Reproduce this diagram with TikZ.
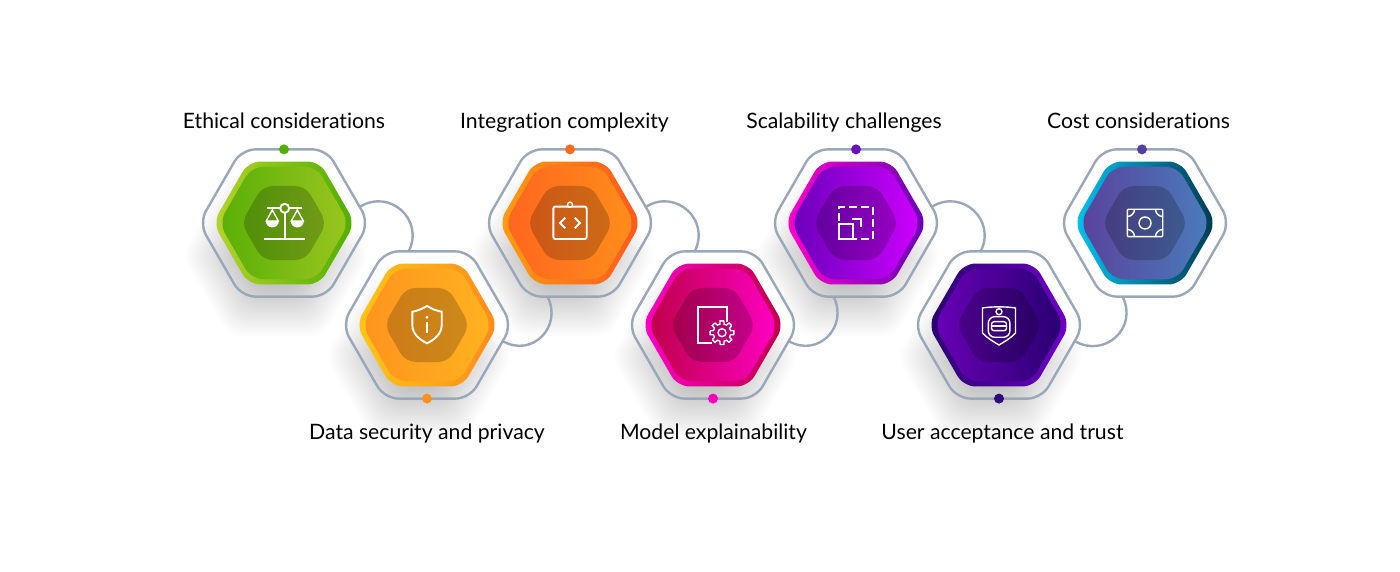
\documentclass[tikz,border=0pt]{standalone}
\usepackage{fontspec}
\setmainfont[Ligatures=NoCommon]{Lato}
\usetikzlibrary{positioning,shapes.geometric}
\definecolor{ringline}{HTML}{9AA7B8}

% stacked see-through hexagons make the soft shadow
\newcommand{\softshadow}[2]{%
  \foreach \s in {60,64,...,188} {
    \node[hexa, minimum size=\s pt, fill=black, fill opacity=0.0062] at (#1-8,#2-32) {};
  }
}
\newcommand{\hexface}[5]{%
  \definecolor{backl}{HTML}{#2}\definecolor{backr}{HTML}{#3}%
  \definecolor{frontl}{HTML}{#4}\definecolor{frontr}{HTML}{#5}%
  \node[hexa, minimum size=142pt, left color=backl, right color=backr] at (#1.center) {};
  \node[hexa, minimum size=130pt, left color=frontl, right color=frontr] at (#1.center) {};
  \node[hexa, minimum size=85.5pt, fill=black, fill opacity=0.2, rounded corners=10pt] at (#1.center) {};
}
\newcommand{\ringdot}[3]{%
  \definecolor{dotc}{HTML}{#3}%
  \node[dot, fill=dotc] (#1dot) at (#1.#2) {};
}

\begin{document}
\begin{tikzpicture}[
  x=1pt, y=1pt,
  hexa/.style={regular polygon, regular polygon sides=6,
    inner sep=0pt, outer sep=0pt, rounded corners=12pt},
  ring/.style={hexa, minimum size=170pt, draw=ringline, line width=2.4pt, rounded corners=14pt},
  link/.style={draw=ringline, line width=2.4pt},
  dot/.style={circle, inner sep=0pt, minimum size=10pt},
  caption/.style={font=\fontsize{21.2}{25}\selectfont, text=black, inner sep=0pt, anchor=base},
  icon/.style={draw=white, line width=1.9pt},
  thinicon/.style={draw=white, line width=1.4pt}
]
\useasboundingbox (0,0) rectangle (1400,572);

\softshadow{284}{349}
\softshadow{427}{247}
\softshadow{570}{349}
\softshadow{713}{247}
\softshadow{856}{349}
\softshadow{999}{247}

% outer rings
\node[ring] (ethical) at (284,349) {};
\node[ring] (security) at (427,247) {};
\node[ring] (integration) at (570,349) {};
\node[ring] (explain) at (713,247) {};
\node[ring] (scale) at (856,349) {};
\node[ring] (trust) at (999,247) {};
\node[ring] (cost) at (1145,349) {};

% connectors
\draw[link] (ethical.12) to[out=32,in=63,looseness=1.37] (security.104);
\draw[link] (security.348) to[out=-30,in=-63,looseness=1.37] (integration.253);
\draw[link] (integration.12) to[out=32,in=63,looseness=1.37] (explain.104);
\draw[link] (explain.348) to[out=-30,in=-63,looseness=1.37] (scale.253);
\draw[link] (scale.12) to[out=32,in=63,looseness=1.37] (trust.104);
\draw[link] (trust.348) to[out=-30,in=-63,looseness=1.37] (cost.253);

% coloured faces
\hexface{ethical}{B6D32C}{4FAE00}{58AF06}{9AC61F}
\hexface{security}{FFC615}{FF8B1C}{FF931E}{FFB31F}
\hexface{integration}{FF9C12}{FF581E}{FF651E}{FF8E1A}
\hexface{explain}{FF00C8}{BE0048}{BE0048}{FF00C4}
\hexface{scale}{FF00CC}{6800B4}{6A00BA}{CE00FF}
\hexface{trust}{2A0070}{7000C8}{6A00B8}{280070}
\hexface{cost}{00C4F2}{00384F}{5A429C}{4A7CBA}

% dots on the rings
\ringdot{ethical}{north}{4FB000}
\ringdot{security}{south}{FF9020}
\ringdot{integration}{north}{FF6A1E}
\ringdot{explain}{south}{FF00C0}
\ringdot{scale}{north}{6A12C0}
\ringdot{trust}{south}{2E0A80}
\definecolor{dotc}{HTML}{5540A0}
\node[dot, fill=dotc, xshift=-3pt] (costdot) at (cost.north) {};

% captions
\node[caption] (ethicaltxt) at (284,443) {Ethical considerations};
\node[caption] (securitytxt) at (427,132) {Data security and privacy};
\node[caption] (integrationtxt) at (564.5,443) {Integration complexity};
\node[caption] (explaintxt) at (713.5,132) {Model explainability};
\node[caption] (scaletxt) at (844,443) {Scalability challenges};
\node[caption] (trusttxt) at (1002.5,132) {User acceptance and trust};
\node[caption] (costtxt) at (1138.5,443) {Cost considerations};

% scales
\begin{scope}[shift={(ethical.center)}]
\draw[icon] (-17,14.7) -- (-3.8,14.7) (5.2,14.7) -- (18.4,14.7);
\draw[icon] (0.7,14.7) circle (4.5);
\draw[icon] (0.7,10.2) -- (0.7,-16);
\draw[icon] (-19.7,-16) -- (21,-16);
\foreach \c in {-11.7,13.3} {
  \draw[thinicon] (\c,13) -- (\c-6,2) -- (\c+6,2) -- cycle;
  \fill[white] (\c-6.5,2) arc[start angle=180, end angle=360, radius=6.5] -- cycle;
}
\end{scope}

% shield with info mark
\begin{scope}[shift={(security.center)}]
\draw[icon] (0,19) .. controls (5,16) and (10,14) .. (14.7,13.3) -- (14.7,0)
  .. controls (14.7,-9) and (7,-15) .. (0,-18.3)
  .. controls (-7,-15) and (-14.7,-9) .. (-14.7,0) -- (-14.7,13.3)
  .. controls (-10,14) and (-5,16) .. (0,19) -- cycle;
\fill[white] (0,7.7) circle (1.6);
\draw[icon] (0,3.3) -- (0,-8.3);
\end{scope}

% code board
\begin{scope}[shift={(integration.center)}]
\draw[icon, rounded corners=2pt] (-16.7,-16) rectangle (16.7,16.3);
\draw[thinicon, fill=black!20!orange] (0,18.3) circle (2.5);
\draw[icon] (-4.7,5.3) -- (-10,0) -- (-4.7,-5.3);
\draw[icon] (4.7,5.3) -- (10,0) -- (4.7,-5.3);
\end{scope}

% page with gear
\begin{scope}[shift={(explain.center)}]
\draw[icon] (13.7,3.3) -- (13.7,18.3) -- (-15.3,18.3) -- (-15.3,-18.3) -- (-1.3,-18.3);
\begin{scope}[shift={(9,-7.7)}]
\draw[thinicon] (0,0) circle (4);
\foreach \a in {0,45,...,315} {
  \draw[thinicon] (\a-9:12) -- (\a+9:12) -- (\a+14:8.8) arc[start angle=\a+14, end angle=\a+31, radius=8.8] -- (\a+36:12);
}
\end{scope}
\end{scope}

% dashed resize frame
\begin{scope}[shift={(scale.center)}]
\draw[icon, dash pattern=on 8pt off 4pt] (-16.8,2) -- (-16.8,16.3) -- (16.8,16.3) -- (16.8,-16.3) -- (-2,-16.3);
\draw[icon] (-16.8,-1.3) rectangle (-2.7,-16.3);
\draw[icon] (-3.7,3.7) -- (4.7,3.7) -- (4.7,-4.3);
\end{scope}

% shield with badge
\begin{scope}[shift={(trust.center)}]
\draw[thinicon] (-16.5,17) .. controls (-8,18.5) and (8,18.5) .. (16.5,17) -- (16.5,-8)
  .. controls (12,-13) and (5,-17) .. (0,-20)
  .. controls (-5,-17) and (-12,-13) .. (-16.5,-8) -- cycle;
\draw[thinicon] (0,13.3) circle (3);
\draw[thinicon, rounded corners=6.5pt] (-10.7,8.3) rectangle (10.9,-12.3);
\draw[thinicon, rounded corners=2.5pt] (-7.5,3.3) rectangle (7.5,-5.7);
\draw[thinicon] (-7.5,-1.2) -- (7.5,-1.2);
\end{scope}

% banknote
\begin{scope}[shift={(cost.center)}]
\draw[thinicon, rounded corners=1pt] (-17.7,13.7) rectangle (17.7,-13.7);
\draw[thinicon] (0,0) circle (6);
\draw[thinicon] (-17.7,6.5) arc[start angle=-90, end angle=0, radius=7.2];
\draw[thinicon] (17.7,6.5) arc[start angle=270, end angle=180, radius=7.2];
\draw[thinicon] (-17.7,-6.5) arc[start angle=90, end angle=0, radius=7.2];
\draw[thinicon] (17.7,-6.5) arc[start angle=90, end angle=180, radius=7.2];
\end{scope}
\end{tikzpicture}
\end{document}
